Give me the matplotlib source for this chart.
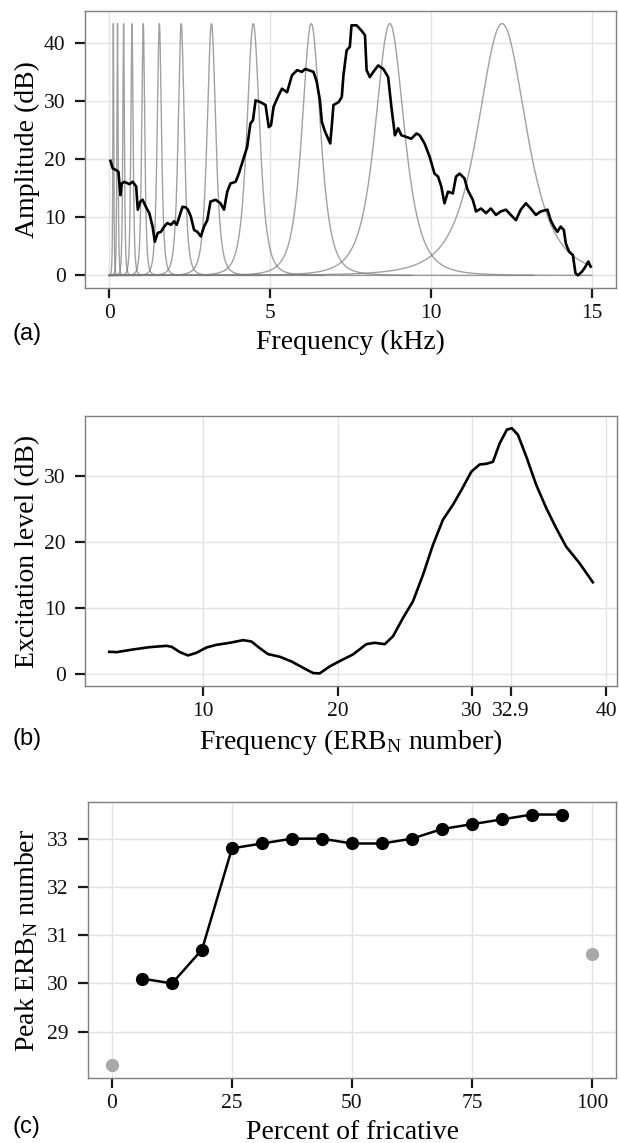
import numpy as np
import matplotlib
matplotlib.use("Agg")
import matplotlib.pyplot as plt

plt.rcParams['font.family'] = ['Liberation Serif', 'DejaVu Serif']
plt.rcParams['mathtext.fontset'] = 'custom'
plt.rcParams['mathtext.rm'] = 'Liberation Serif'
plt.rcParams['mathtext.it'] = 'Liberation Serif:italic'

# ---------------- Panel (a) data ----------------
spec_khz = [0.04, 0.11, 0.22, 0.29, 0.35, 0.39, 0.47, 0.63, 0.73, 0.84, 0.89, 0.97, 1.04, 1.14,
            1.25, 1.35, 1.42, 1.51, 1.61, 1.71, 1.81, 1.92, 2.02, 2.10, 2.18, 2.28, 2.38, 2.45,
            2.54, 2.64, 2.74, 2.85, 2.95, 3.05, 3.15, 3.31, 3.46, 3.57, 3.67, 3.77, 3.93, 4.03,
            4.13, 4.29, 4.39, 4.47, 4.55, 4.70, 4.86, 4.96, 5.03, 5.11, 5.27, 5.37, 5.53, 5.68,
            5.84, 5.99, 6.09, 6.19, 6.35, 6.45, 6.55, 6.61, 6.71, 6.87, 6.92, 6.97, 7.13, 7.23,
            7.28, 7.38, 7.48, 7.53, 7.69, 7.84, 7.95, 8.00, 8.10, 8.21, 8.36, 8.52, 8.67, 8.77,
            8.88, 8.98, 9.08, 9.24, 9.39, 9.55, 9.65, 9.80, 9.96, 10.11, 10.22, 10.32, 10.42,
            10.53, 10.68, 10.78, 10.89, 11.04, 11.14, 11.30, 11.40, 11.56, 11.71, 11.86, 12.02,
            12.17, 12.33, 12.48, 12.64, 12.79, 12.95, 13.10, 13.26, 13.41, 13.62, 13.72, 13.82,
            13.93, 14.03, 14.13, 14.19, 14.29, 14.41, 14.49, 14.57, 14.70, 14.80, 14.89, 14.96]
spec_db = [19.7, 18.4, 18.1, 17.8, 13.8, 15.8, 16.1, 15.7, 16.1, 15.3, 11.3, 12.7, 13.0, 11.8,
           10.7, 8.4, 5.8, 7.3, 7.5, 8.4, 9.0, 8.7, 9.3, 8.7, 10.1, 11.8, 11.7, 11.3,
           10.1, 7.8, 7.5, 6.7, 8.4, 9.5, 12.7, 13.0, 12.4, 11.3, 14.4, 15.8, 16.1, 17.5,
           19.3, 22.1, 26.1, 26.7, 30.1, 29.8, 29.3, 25.5, 25.8, 29.0, 31.0, 32.1, 31.5, 34.4,
           35.3, 35.0, 35.5, 35.3, 35.0, 33.3, 30.1, 26.4, 24.7, 22.7, 25.8, 29.3, 29.8, 30.7,
           34.4, 38.7, 39.3, 43.0, 43.0, 42.1, 41.3, 35.3, 34.1, 35.0, 36.1, 35.5, 34.1, 29.0,
           24.1, 25.3, 24.1, 23.8, 23.5, 24.4, 24.1, 22.7, 20.4, 17.5, 17.0, 15.3, 12.4,
           14.4, 14.1, 17.0, 17.5, 16.7, 14.7, 13.0, 11.0, 11.5, 10.7, 11.5, 10.4,
           11.0, 11.3, 10.4, 9.5, 11.3, 12.4, 11.5, 10.4, 11.0, 11.3, 9.5, 8.4,
           7.5, 8.4, 7.8, 5.5, 4.1, 3.5, 0.4, 0.0, 0.7, 1.5, 2.4, 1.5]

filter_centre_khz = [0.13, 0.26, 0.45, 0.71, 1.06, 1.56, 2.24, 3.18, 4.48, 6.28, 8.72, 12.21]
filter_bw_khz = [0.025, 0.033, 0.045, 0.062, 0.085, 0.12, 0.17, 0.24, 0.36, 0.52, 0.82, 1.37]
filter_peak_db = 43.3

# ---------------- Panel (b) data ----------------
erb_x = [3.01, 3.56, 4.80, 6.03, 7.27, 7.65, 8.27, 8.88, 9.50, 10.25, 10.99, 11.98, 12.97,
         13.59, 14.21, 14.83, 15.70, 16.57, 17.43, 18.18, 18.67, 19.42, 20.16, 21.15, 22.14,
         22.76, 23.51, 24.13, 24.87, 25.61, 26.36, 27.10, 27.84, 28.59, 29.21, 29.95, 30.57,
         31.07, 31.56, 32.06, 32.60, 32.97, 33.42, 34.04, 34.78, 35.52, 36.27, 37.01, 38.00, 38.99]
excitation_db = [3.33, 3.28, 3.69, 4.04, 4.24, 4.10, 3.28, 2.78, 3.18, 3.99, 4.39, 4.70, 5.10,
                 4.90, 3.89, 2.98, 2.58, 1.87, 0.91, 0.10, 0.05, 1.11, 1.92, 2.93, 4.49,
                 4.70, 4.49, 5.71, 8.48, 11.0, 15.05, 19.6, 23.4, 25.7, 27.9, 30.7, 31.8,
                 31.9, 32.2, 35.0, 37.1, 37.3, 36.3, 33.0, 28.7, 25.2, 22.1, 19.3, 16.8, 13.9]
erb_ticks = [10, 20, 30, 32.9, 40]
erb_ticklabels = ['10', '20', '30', '32.9', '40']

# ---------------- Panel (c) data ----------------
pct_line = [6.25, 12.5, 18.75, 25, 31.25, 37.5, 43.75, 50, 56.25, 62.5, 68.75, 75, 81.25, 87.5, 93.75]
peak_line = [30.1, 30.0, 30.7, 32.8, 32.9, 33.0, 33.0, 32.9, 32.9, 33.0, 33.2, 33.3, 33.4, 33.5, 33.5]
pct_end = [0, 100]
peak_end = [28.3, 30.6]

# ---------------- Figure ----------------
W, H = 619, 1143
fig = plt.figure(figsize=(W / 100, H / 100), dpi=100)


def px_axes(left, top, right, bottom):
    return fig.add_axes([left / W, 1 - bottom / H, (right - left) / W, (bottom - top) / H])


def style(ax):
    for s in ax.spines.values():
        s.set_color('#7f7f7f')
        s.set_linewidth(1.0)
    ax.grid(True, color='#e3e3e3', linewidth=1.0)
    ax.set_axisbelow(True)
    ax.tick_params(axis='both', direction='out', length=7, width=1.6, color='#1a1a1a',
                   labelsize=15.5, labelcolor='#111111')
    ax.tick_params(axis='x', pad=4.8)
    ax.tick_params(axis='y', pad=7.0)


def expand(lo, hi, frac=0.05):
    d = (hi - lo) * frac
    return lo - d, hi + d


# Panel (a)
axa = px_axes(85, 11, 616, 288)
style(axa)
for fc, bw in zip(filter_centre_khz, filter_bw_khz):
    f = np.linspace(0, min(15.0, 2.1 * fc), 800)
    amp = filter_peak_db * (1 + ((f - fc) / bw) ** 2) ** -2
    axa.plot(f, amp, color='#7a7a7a', alpha=0.7, linewidth=1.0, zorder=2)
axa.plot(spec_khz, spec_db, color='black', linewidth=1.9, zorder=3)
axa.set_xlim(*expand(0, 15))
axa.set_ylim(*expand(0, filter_peak_db))
axa.set_xticks([0, 5, 10, 15])
axa.set_yticks([0, 10, 20, 30, 40])

# Panel (b)
axb = px_axes(85, 416, 617, 686)
style(axb)
axb.plot(erb_x, excitation_db, color='black', linewidth=1.9, zorder=3)
axb.set_xlim(*expand(min(erb_x), max(erb_x)))
axb.set_ylim(*expand(0, max(excitation_db)))
axb.set_xticks(erb_ticks)
axb.set_xticklabels(erb_ticklabels)
axb.set_yticks([0, 10, 20, 30])

# Panel (c)
axc = px_axes(88, 802, 616, 1078)
style(axc)
axc.plot(pct_line, peak_line, color='black', linewidth=1.8, marker='o', markersize=8.5, zorder=3)
axc.plot(pct_end, peak_end, linestyle='none', marker='o', markersize=8.5, color='#a8a8a8', zorder=3)
axc.set_xlim(*expand(0, 100))
axc.set_ylim(*expand(min(peak_end + peak_line), max(peak_end + peak_line)))
axc.set_xticks([0, 25, 50, 75, 100])
axc.set_yticks([29, 30, 31, 32, 33])


def ftext(x, y, s, **kw):
    fig.text(x / W, 1 - y / H, s, **kw)


title_fs = 20
# axis titles
ftext(350, 349, 'Frequency (kHz)', ha='center', va='baseline', fontsize=title_fs)
ftext(351, 749, 'Frequency (ERB$_{\\mathrm{N}}$ number)', ha='center', va='baseline', fontsize=title_fs)
ftext(352, 1139, 'Percent of fricative', ha='center', va='baseline', fontsize=title_fs)
ftext(27, 149.5, 'Amplitude (dB)', ha='center', va='center', rotation=90, fontsize=title_fs)
ftext(28, 551, 'Excitation level (dB)', ha='center', va='center', rotation=90, fontsize=title_fs)
ftext(27, 940, 'Peak ERB$_{\\mathrm{N}}$ number', ha='center', va='center', rotation=90, fontsize=title_fs)

# panel tags
for lab, y in [('(a)', 334), ('(b)', 739), ('(c)', 1127)]:
    ftext(13, y, lab, ha='left', va='center', fontsize=17, family=['Liberation Sans', 'DejaVu Sans'])

fig.savefig('out.png', dpi=100)
